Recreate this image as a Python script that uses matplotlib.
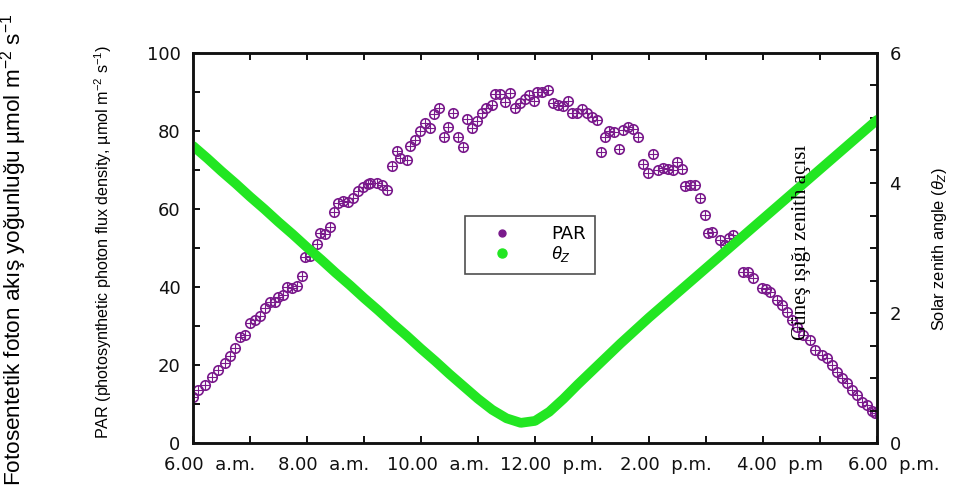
import matplotlib
matplotlib.use("Agg")
import matplotlib.pyplot as plt
import matplotlib.transforms as mtransforms
from matplotlib.lines import Line2D
from matplotlib.ticker import MultipleLocator
import numpy as np

# PAR ölçümleri (saat, µmol m-2 s-1)
par_hours = [
    6.00, 6.09, 6.21, 6.33, 6.44, 6.56, 6.65, 6.74, 6.82, 6.91,
    7.00, 7.09, 7.18, 7.26, 7.35, 7.44, 7.49, 7.58, 7.65, 7.74,
    7.82, 7.91, 7.96, 8.05, 8.18, 8.23, 8.32, 8.40, 8.47, 8.54,
    8.63, 8.72, 8.81, 8.89, 8.98, 9.07, 9.11, 9.23, 9.32, 9.40,
    9.49, 9.58, 9.63, 9.75, 9.81, 9.89, 9.98, 10.07, 10.16, 10.23,
    10.32, 10.40, 10.47, 10.56, 10.65, 10.74, 10.81, 10.89, 10.98, 11.07,
    11.14, 11.25, 11.30, 11.39, 11.47, 11.56, 11.65, 11.74, 11.82, 11.89,
    11.98, 12.04, 12.12, 12.23, 12.32, 12.40, 12.49, 12.58, 12.65, 12.74,
    12.82, 12.91, 13.00, 13.09, 13.16, 13.23, 13.30, 13.39, 13.47, 13.54,
    13.63, 13.72, 13.81, 13.89, 13.98, 14.07, 14.16, 14.25, 14.33, 14.42,
    14.49, 14.58, 14.63, 14.72, 14.81, 14.89, 14.98, 15.04, 15.11, 15.25,
    15.33, 15.40, 15.47, 15.65, 15.74, 15.82, 15.98, 16.05, 16.12, 16.25,
    16.33, 16.42, 16.51, 16.60, 16.70, 16.82, 16.91, 17.04, 17.12, 17.21,
    17.30, 17.39, 17.47, 17.56, 17.65, 17.74, 17.82, 17.91, 17.96,
]
par_values = [
    11.8, 13.6, 14.9, 16.9, 18.7, 20.5, 22.3, 24.4, 27.2, 27.7,
    30.8, 31.5, 32.6, 34.6, 36.2, 36.2, 37.4, 37.9, 40.0, 39.7,
    40.3, 42.8, 47.7, 48.0, 51.0, 53.8, 53.6, 55.4, 59.2, 61.5,
    62.0, 61.8, 62.8, 64.6, 65.6, 66.4, 66.7, 66.7, 66.2, 64.9,
    71.0, 74.9, 73.0, 72.6, 76.2, 77.7, 80.0, 82.0, 80.8, 84.4,
    85.9, 78.5, 81.0, 84.6, 78.5, 75.9, 83.0, 80.8, 82.6, 84.6,
    85.9, 86.7, 89.5, 89.5, 87.4, 89.7, 85.9, 87.2, 88.2, 89.2,
    87.7, 90.0, 90.0, 90.5, 87.2, 86.7, 86.4, 87.7, 84.6, 84.6,
    85.6, 84.6, 83.6, 82.8, 74.6, 78.5, 80.0, 79.7, 75.4, 80.3,
    81.0, 80.5, 78.5, 71.5, 69.2, 74.1, 70.0, 70.5, 70.3, 70.0,
    72.0, 70.3, 65.9, 66.2, 66.2, 62.8, 58.5, 53.8, 54.1, 52.0,
    50.8, 52.6, 53.3, 43.8, 43.8, 42.3, 39.7, 39.5, 38.7, 36.7,
    35.4, 33.6, 31.5, 29.7, 27.7, 26.4, 23.8, 22.6, 21.8, 20.0,
    18.2, 16.7, 15.4, 13.6, 12.3, 10.5, 9.7, 8.2, 7.7,
]

# Güneş zenith açısı
theta_hours = [
    6.00, 6.25, 6.50, 6.75, 7.00, 7.25, 7.50, 7.75, 8.00, 8.25,
    8.50, 8.75, 9.00, 9.25, 9.50, 9.75, 10.00, 10.25, 10.50, 10.75,
    11.00, 11.25, 11.50, 11.75, 12.00, 12.25, 12.50, 12.75, 13.00, 13.25,
    13.50, 13.75, 14.00, 14.25, 14.50, 14.75, 15.00, 15.25, 15.50, 15.75,
    16.00, 16.25, 16.50, 16.75, 17.00, 17.25, 17.50, 17.75, 18.00,
]
theta_values = [
    4.57, 4.38, 4.18, 3.99, 3.79, 3.60, 3.40, 3.21, 3.01, 2.82,
    2.62, 2.43, 2.23, 2.04, 1.84, 1.65, 1.45, 1.26, 1.06, 0.87,
    0.68, 0.51, 0.38, 0.31, 0.34, 0.48, 0.68, 0.90, 1.11, 1.32,
    1.53, 1.73, 1.93, 2.12, 2.31, 2.50, 2.69, 2.88, 3.07, 3.26,
    3.45, 3.64, 3.83, 4.02, 4.21, 4.40, 4.59, 4.78, 4.97,
]

tick_hours = [6, 8, 10, 12, 14, 16, 18]
tick_labels = ["6.00  a.m.", "8.00  a.m.", "10.00  a.m.", "12.00  p.m.",
               "2.00  p.m.", "4.00  p.m", "6.00  p.m."]

purple = "#7a1a8c"
green = "#22e622"

plt.rcParams["mathtext.fontset"] = "custom"
plt.rcParams["mathtext.rm"] = "Liberation Sans"
plt.rcParams["mathtext.it"] = "Liberation Sans:italic"

fig = plt.figure(figsize=(9.57, 4.99), dpi=100)
ax = fig.add_axes([0.2017, 0.1122, 0.7147, 0.7816])
ax2 = ax.twinx()

ax.plot(par_hours, par_values, ls="none", marker="o", ms=6.8,
        mfc="none", mec=purple, mew=1.2, zorder=3)
ax.plot(par_hours, par_values, ls="none", marker="+", ms=6.8,
        mec=purple, mew=0.8, zorder=3)

ax2.plot(theta_hours, theta_values, color=green, lw=7.0,
         solid_capstyle="round", solid_joinstyle="round")

ax.set_xlim(6, 18)
ax.set_ylim(0, 100)
ax2.set_ylim(0, 6)

ax.set_xticks(tick_hours)
ax.set_xticklabels(tick_labels)
ax.xaxis.set_minor_locator(MultipleLocator(1))
ax.yaxis.set_major_locator(MultipleLocator(20))
ax.yaxis.set_minor_locator(MultipleLocator(10))
ax2.yaxis.set_major_locator(MultipleLocator(2))
ax2.yaxis.set_minor_locator(MultipleLocator(0.5))

for a in (ax, ax2):
    a.tick_params(which="both", direction="in", length=5, width=1.4,
                  labelsize=13, colors="#111111")
    for sp in a.spines.values():
        sp.set_linewidth(1.8)
        sp.set_color("#111111")
ax.tick_params(which="both", top=True, right=False)
ax.tick_params(axis="x", pad=9)
ax.tick_params(axis="y", pad=9)
ax2.tick_params(axis="y", pad=9)

shift = mtransforms.ScaledTranslation(0.17, 0, fig.dpi_scale_trans)
for lab in ax.get_xticklabels():
    lab.set_transform(lab.get_transform() + shift)

handles = [
    Line2D([], [], ls="none", marker="o", ms=5, color=purple),
    Line2D([], [], ls="none", marker="o", ms=6.5, color=green),
]
leg = ax2.legend(handles, ["PAR", r"$\theta_Z$"], loc="center",
                 bbox_to_anchor=(0.493, 0.508), fontsize=13,
                 frameon=True, fancybox=False, edgecolor="#222222",
                 handlelength=3.0, handletextpad=1.2, labelspacing=0.05,
                 borderpad=0.55, borderaxespad=0)
leg.get_frame().set_linewidth(1.2)

fig.text(0.0146, 0.5, "Fotosentetik foton akış yoğunluğu µmol m$^{-2}$ s$^{-1}$",
         rotation=90, ha="center", va="center", fontsize=16.2,
         family=["Liberation Sans", "DejaVu Sans"])
fig.text(0.1076, 0.515,
         "PAR (photosynthetic photon flux density, µmol m$^{-2}$ s$^{-1}$)",
         rotation=90, ha="center", va="center", fontsize=11.6,
         family=["Liberation Sans", "DejaVu Sans"])
fig.text(0.982, 0.501, r"Solar zenith angle ($\theta_Z$)",
         rotation=90, ha="center", va="center", fontsize=11.8,
         family=["Liberation Sans", "DejaVu Sans"])
fig.text(0.838, 0.515, "Güneş ışığı zenith açısı",
         rotation=90, ha="center", va="center", fontsize=15,
         family=["Liberation Serif", "DejaVu Serif"], zorder=10)

fig.savefig("out.png", dpi=100)
